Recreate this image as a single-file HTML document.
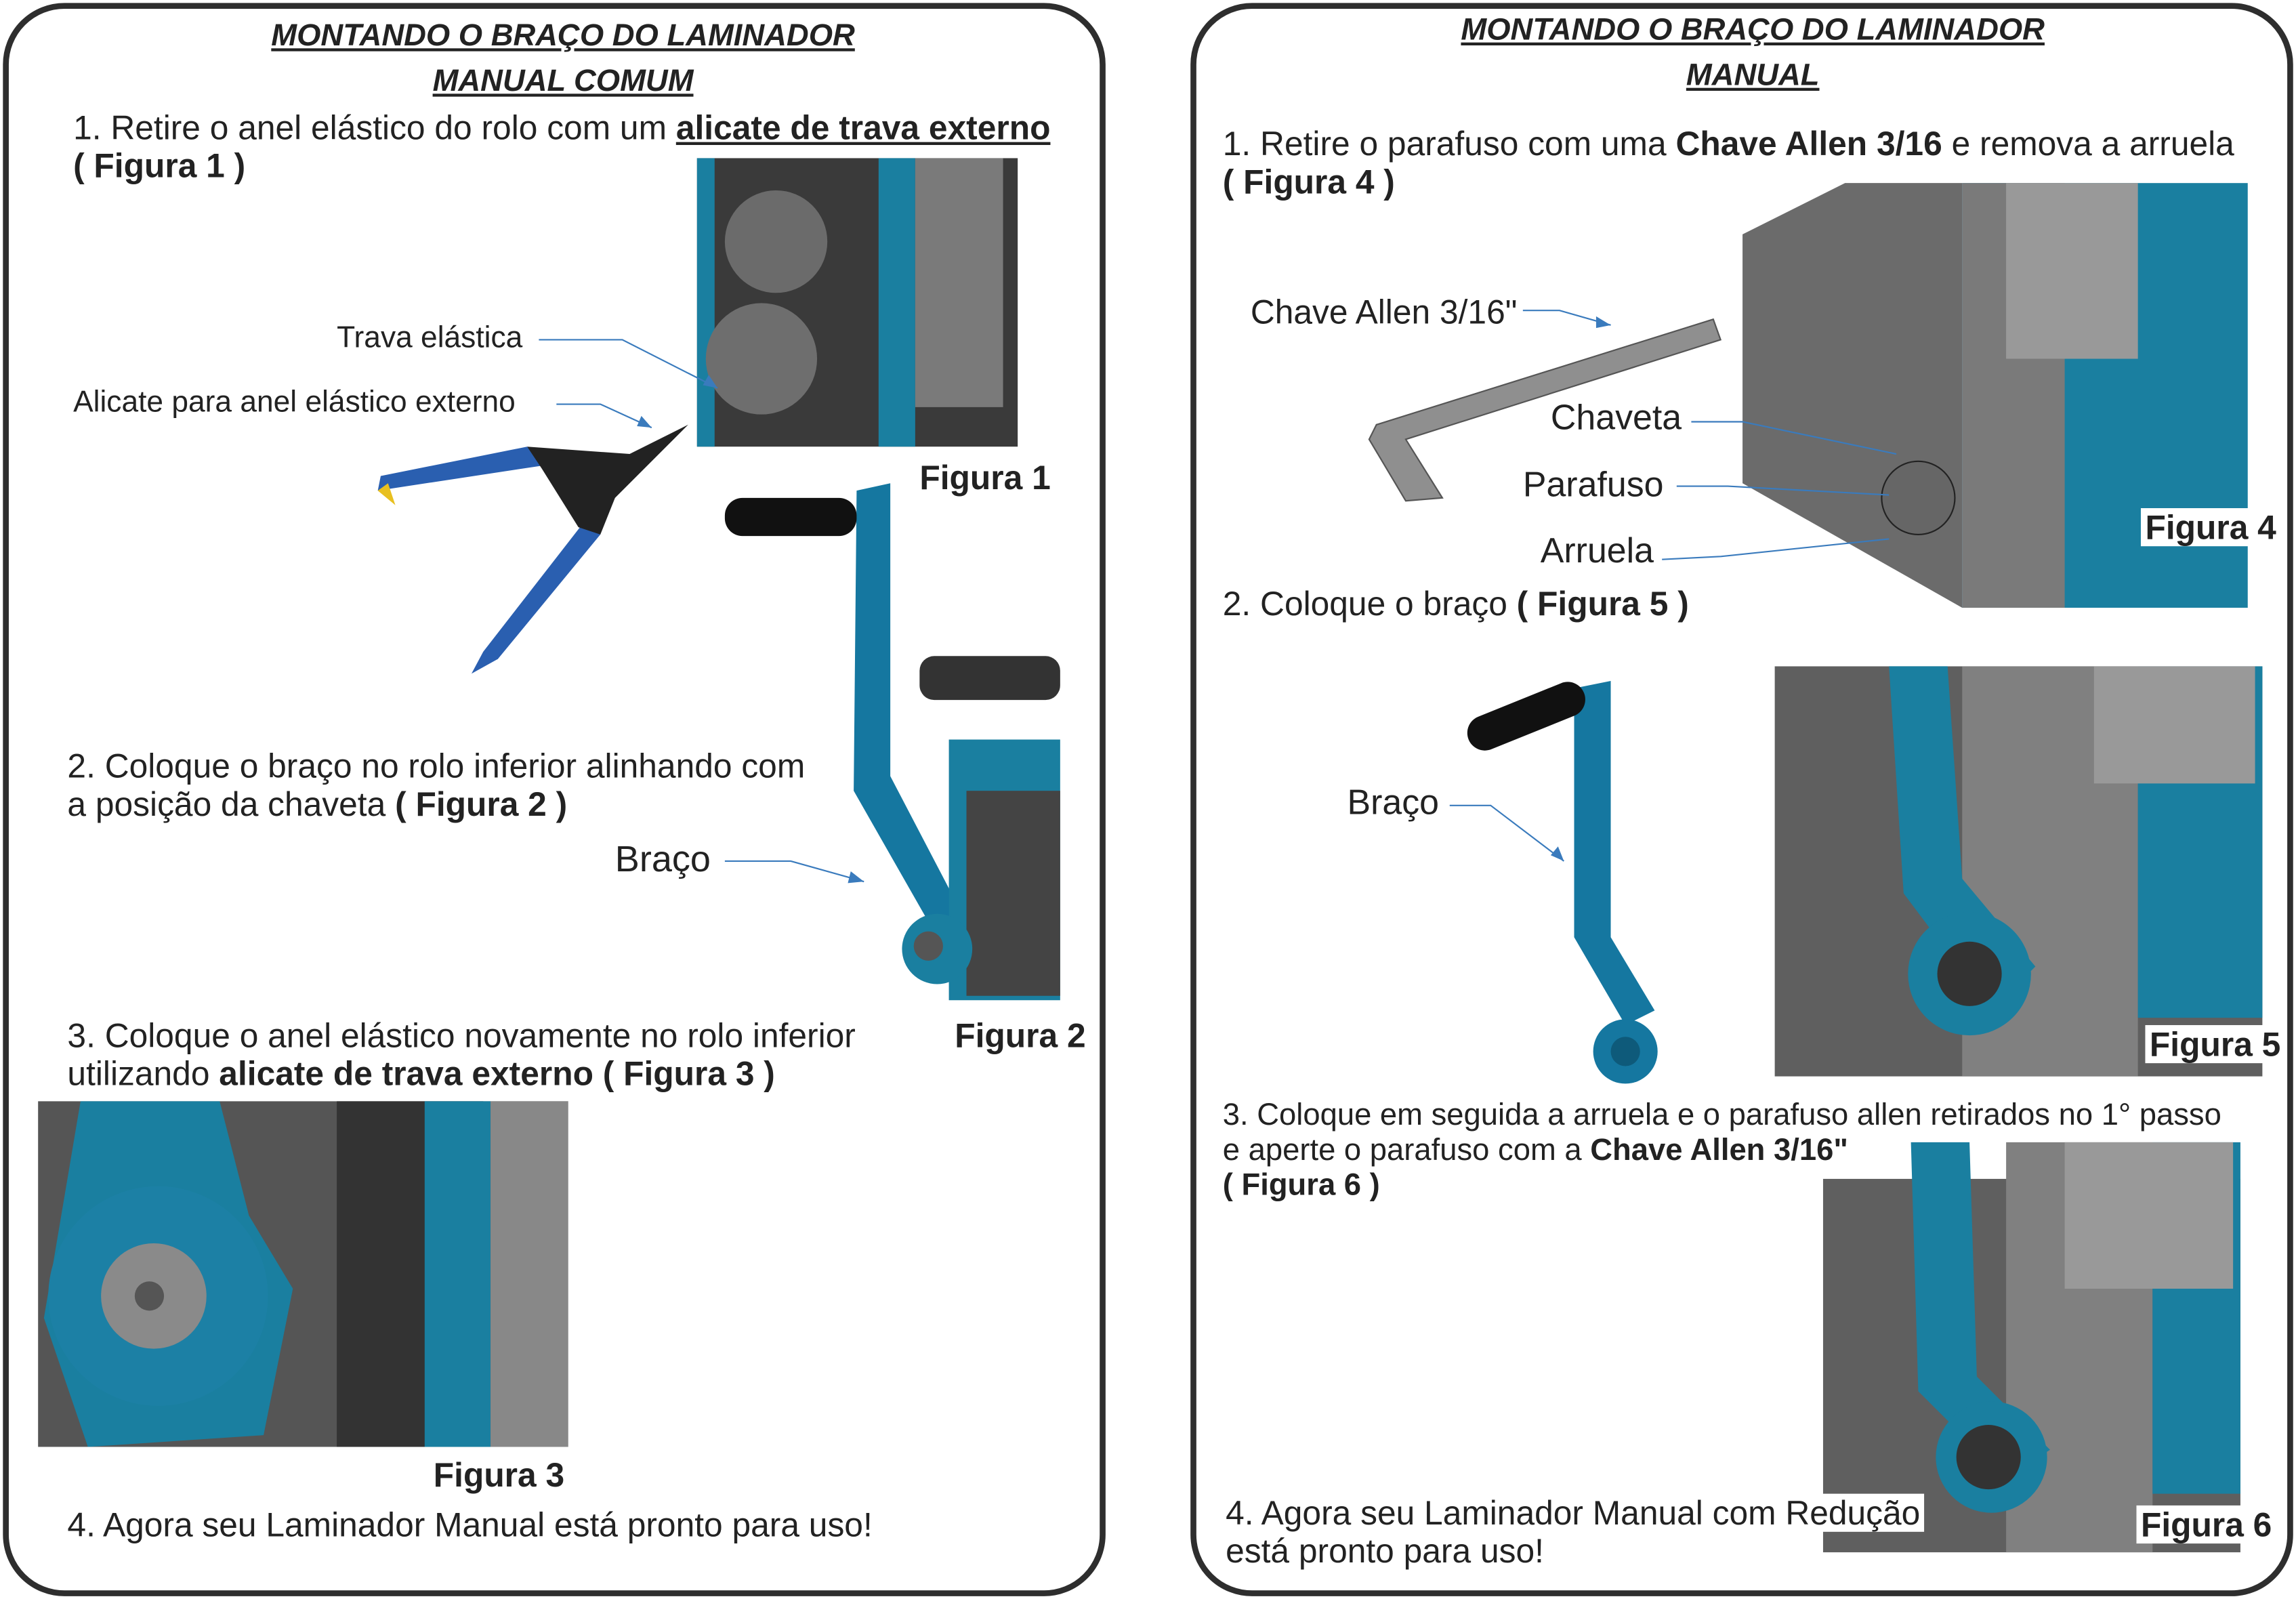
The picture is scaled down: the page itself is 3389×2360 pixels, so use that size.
<!DOCTYPE html>
<html><head><meta charset="utf-8"><style>
html,body{margin:0;padding:0;background:#fff;}
#w{width:1568px;height:1092px;position:relative;transform:scale(2.1614);transform-origin:0 0;font-family:"Liberation Sans",sans-serif;color:#222;}
.p{position:absolute;border:4px solid #2e2e2e;border-radius:42px;box-sizing:border-box;}
.t{position:absolute;font-size:23px;line-height:26px;white-space:nowrap;}
.h{position:absolute;font-size:21px;font-style:italic;font-weight:bold;text-decoration:underline;text-align:center;line-height:31px;}
.b{font-weight:bold}
.wb{background:#fff;padding:0 3px;margin-left:-3px}
.r{position:absolute;}
</style></head><body><div id="w">
<svg class="r" style="left:0;top:0" width="1568" height="1092">
<rect x="476" y="108" width="219" height="197" fill="#3a3a3a"/>
<rect x="476" y="108" width="12" height="197" fill="#1a7fa0"/>
<rect x="600" y="108" width="25" height="197" fill="#1a7fa0"/>
<rect x="625" y="108" width="60" height="170" fill="#7a7a7a"/>
<circle cx="530" cy="165" r="35" fill="#6b6b6b"/><circle cx="520" cy="245" r="38" fill="#6e6e6e"/>
<path d="M258 335 L370 318 L360 305 L260 325 Z" fill="#2a5fb0"/>
<path d="M258 335 L270 345 L265 330Z" fill="#e8c020"/>
<path d="M400 355 L330 445 L322 460 L340 450 L410 365Z" fill="#2a5fb0"/>
<path d="M360 305 L430 310 L470 290 L440 320 L420 340 L410 365 L395 360 L370 320Z" fill="#222"/>
<path d="M585 335 L608 330 L608 530 L655 620 L640 640 L583 540Z" fill="#1577a0"/>
<rect x="495" y="340" width="90" height="26" rx="12" fill="#111"/>
<rect x="648" y="505" width="76" height="178" fill="#1a7fa0"/>
<rect x="660" y="540" width="64" height="140" fill="#444"/>
<rect x="628" y="448" width="96" height="30" rx="10" fill="#333"/>
<circle cx="640" cy="648" r="24" fill="#1a7fa0"/><circle cx="634" cy="646" r="10" fill="#555"/>
<rect x="26" y="752" width="362" height="236" fill="#555"/>
<rect x="230" y="752" width="100" height="236" fill="#333"/>
<rect x="290" y="752" width="45" height="236" fill="#1a7fa0"/>
<rect x="335" y="752" width="53" height="236" fill="#888"/>
<path d="M55 752 L150 752 L170 830 L200 880 L180 980 L60 988 L30 900 Z" fill="#1a7fa0"/>
<circle cx="108" cy="885" r="75" fill="#1c80a5"/><circle cx="105" cy="885" r="36" fill="#8a8a8a"/><circle cx="102" cy="885" r="10" fill="#555"/>
<path d="M940 290 L1170 218 L1175 232 L960 300 L985 340 L960 342 L935 300Z" fill="#8f8f8f" stroke="#555"/>
<path d="M1190 160 L1260 125 L1340 125 L1340 415 L1190 330Z" fill="#6b6b6b"/>
<rect x="1340" y="125" width="195" height="290" fill="#1a7fa0"/>
<rect x="1340" y="125" width="70" height="290" fill="#7a7a7a"/>
<rect x="1370" y="125" width="90" height="120" fill="#999"/>
<circle cx="1310" cy="340" r="25" fill="#666" stroke="#222"/>
<path d="M1075 470 L1100 465 L1100 640 L1130 690 L1110 700 L1075 640Z" fill="#1577a0"/>
<rect x="1000" y="478" width="85" height="24" rx="12" fill="#111" transform="rotate(-22 1040 490)"/>
<circle cx="1110" cy="718" r="22" fill="#1577a0"/><circle cx="1110" cy="718" r="10" fill="#0e5a7a"/>
<rect x="1212" y="455" width="333" height="280" fill="#5f5f5f"/>
<rect x="1340" y="455" width="120" height="280" fill="#808080"/>
<rect x="1460" y="455" width="85" height="240" fill="#1a7fa0"/>
<rect x="1430" y="455" width="110" height="80" fill="#999"/>
<path d="M1290 455 L1330 455 L1340 600 L1390 660 L1360 690 L1300 610Z" fill="#1a7fa0"/>
<circle cx="1345" cy="665" r="42" fill="#1a7fa0"/><circle cx="1345" cy="665" r="22" fill="#333"/>
<rect x="1245" y="805" width="285" height="255" fill="#5f5f5f"/>
<rect x="1370" y="780" width="100" height="280" fill="#808080"/>
<rect x="1470" y="780" width="60" height="240" fill="#1a7fa0"/>
<rect x="1410" y="780" width="115" height="100" fill="#999"/>
<path d="M1305 780 L1345 780 L1350 940 L1400 990 L1370 1010 L1310 950Z" fill="#1a7fa0"/>
<circle cx="1360" cy="995" r="38" fill="#1a7fa0"/><circle cx="1358" cy="995" r="22" fill="#333"/>
<g stroke="#3a7bbd" stroke-width="1" fill="none">
<path d="M368 232 L425 232 L490 265"/><path d="M380 276 L410 276 L445 292"/>
<path d="M495 588 L540 588 L590 602"/><path d="M1040 212 L1065 212 L1100 222"/>
<path d="M1155 288 L1190 288 L1295 310"/><path d="M1145 332 L1180 332 L1290 338"/>
<path d="M1135 382 L1175 380 L1290 368"/><path d="M990 550 L1018 550 L1068 588"/>
</g>
<g fill="#3a7bbd"><path d="M490 265 l-10 -2 l4 -7z"/><path d="M445 292 l-10 -1 l3 -7z"/><path d="M590 602 l-11 1 l2 -8z"/><path d="M1100 222 l-10 2 l0 -8z"/><path d="M1068 588 l-9 -4 l5 -6z"/></g>
</svg>
<div class="p" style="left:2px;top:2px;width:753px;height:1088px"></div>
<div class="p" style="left:813px;top:2px;width:753px;height:1088px"></div>

<div class="h" style="left:2px;width:765px;top:9px">MONTANDO O BRAÇO DO LAMINADOR<br>MANUAL COMUM</div>
<div class="t" style="left:50px;top:74px">1. Retire o anel elástico do rolo com um <span class="b" style="text-decoration:underline">alicate de trava externo</span></div>
<div class="t b" style="left:50px;top:100px">( Figura 1 )</div>
<div class="t" style="left:230px;top:218px;font-size:20.5px">Trava elástica</div>
<div class="t" style="left:50px;top:262px;font-size:20.5px">Alicate para anel elástico externo</div>
<div class="t b" style="left:628px;top:313px">Figura 1</div>
<div class="t" style="left:46px;top:510px">2. Coloque o braço no rolo inferior alinhando com</div>
<div class="t" style="left:46px;top:536px">a posição da chaveta <b>( Figura 2 )</b></div>
<div class="t" style="left:420px;top:574px;font-size:25px">Braço</div>
<div class="t b" style="left:652px;top:694px">Figura 2</div>
<div class="t" style="left:46px;top:694px">3. Coloque o anel elástico novamente no rolo inferior</div>
<div class="t" style="left:46px;top:720px">utilizando <b>alicate de trava externo ( Figura 3 )</b></div>
<div class="t b" style="left:296px;top:994px">Figura 3</div>
<div class="t" style="left:46px;top:1028px">4. Agora seu Laminador Manual está pronto para uso!</div>

<div class="h" style="left:813px;width:768px;top:5px">MONTANDO O BRAÇO DO LAMINADOR<br>MANUAL</div>
<div class="t" style="left:835px;top:85px">1. Retire o parafuso com uma <b>Chave Allen 3/16</b> e remova a arruela</div>
<div class="t b" style="left:835px;top:111px">( Figura 4 )</div>
<div class="t" style="left:854px;top:200px">Chave Allen 3/16"</div>
<div class="t" style="left:1059px;top:273px;font-size:24px">Chaveta</div>
<div class="t" style="left:1040px;top:319px;font-size:24px">Parafuso</div>
<div class="t" style="left:1052px;top:364px;font-size:24px">Arruela</div>
<div class="t b wb" style="left:1465px;top:347px">Figura 4</div>
<div class="t" style="left:835px;top:399px">2. Coloque o braço <b>( Figura 5 )</b></div>
<div class="t" style="left:920px;top:536px;font-size:24px">Braço</div>
<div class="t b wb" style="left:1468px;top:700px">Figura 5</div>
<div class="t" style="left:835px;top:750px;font-size:21px;line-height:24px">3. Coloque em seguida a arruela e o parafuso allen retirados no 1° passo<br>e aperte o parafuso com a <b>Chave Allen 3/16"</b><br><b>( Figura 6 )</b></div>
<div class="t" style="left:837px;top:1020px"><span class="wb">4. Agora seu Laminador Manual com Redução</span><br>está pronto para uso!</div>
<div class="t b wb" style="left:1462px;top:1028px">Figura 6</div>
</div></body></html>
